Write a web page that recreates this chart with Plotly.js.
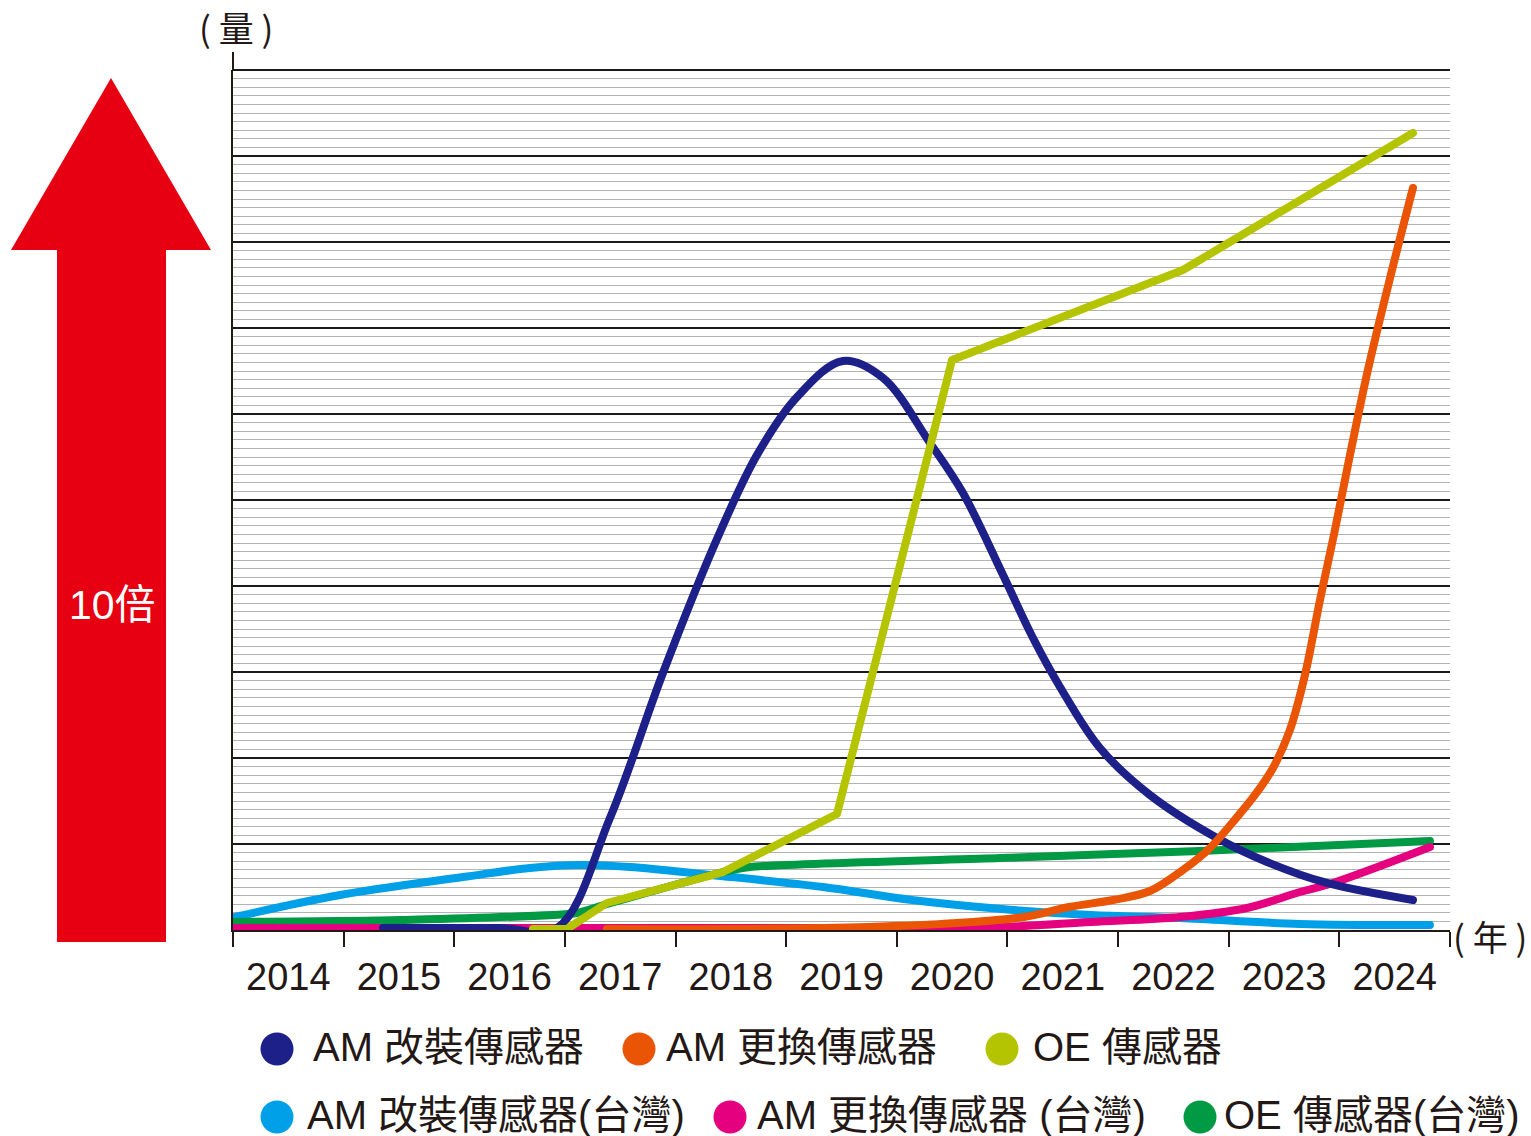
<!DOCTYPE html>
<html><head><meta charset="utf-8">
<script src="https://cdn.plot.ly/plotly-3.0.1.min.js"></script>
<style>
html,body{margin:0;padding:0;background:#fff}
.scatterlayer path.js-line{stroke-linecap:round;stroke-linejoin:round}
</style>
</head><body>
<div id="chart" style="width:1531px;height:1136px"></div>
<script>
// ---- data ----
const years = [2014, 2015, 2016, 2017, 2018, 2019, 2020, 2021, 2022, 2023, 2024];
const yearLabels = ['2014','2015','2016','2017','2018','2019','2020','2021','2022','2023','2024'];
const yearBounds = [2013.5,2014.5,2015.5,2016.5,2017.5,2018.5,2019.5,2020.5,2021.5,2022.5,2023.5,2024.5];

const seriesNames = ['AM 改裝傳感器','AM 更換傳感器','OE 傳感器','AM 改裝傳感器(台灣)','AM 更換傳感器 (台灣)','OE 傳感器(台灣)'];

const amRetroX = [2014.856,2015.900,2016.428,2016.907,2017.386,2017.875,2018.236,2018.598,2019.013,2019.375,2019.800,2020.098,2020.460,2020.731,2020.975,2021.336,2021.788,2022.394,2022.846,2023.388,2024.165];
const amRetroY = [0.023,0.023,0.023,1.302,2.988,4.547,5.523,6.198,6.616,6.419,5.663,5.081,4.128,3.395,2.826,2.116,1.570,1.070,0.791,0.547,0.349];

const amReplX = [2016.880,2018.028,2019.239,2020.044,2020.649,2021.056,2021.454,2021.788,2022.086,2022.330,2022.538,2022.737,2022.900,2023.053,2023.189,2023.325,2023.460,2023.596,2023.758,2023.958,2024.165];
const amReplY = [0.012,0.012,0.035,0.081,0.151,0.267,0.349,0.453,0.698,0.953,1.256,1.570,1.884,2.326,2.965,3.837,4.651,5.523,6.512,7.581,8.628];

const oeX = [2016.211,2016.519,2016.880,2017.929,2018.959,2019.999,2022.086,2024.165];
const oeY = [0.012,0.012,0.314,0.674,1.349,6.628,7.674,9.267];

const amRetroTwX = [2013.518,2014.467,2015.579,2016.184,2016.636,2017.088,2017.820,2018.833,2019.637,2020.451,2021.255,2022.059,2023.144,2024.319];
const amRetroTwY = [0.151,0.407,0.616,0.721,0.756,0.733,0.640,0.500,0.349,0.244,0.174,0.140,0.070,0.058];

const amReplTwX = [2013.518,2016.817,2019.637,2020.451,2021.255,2022.059,2022.665,2023.144,2023.442,2024.319];
const amReplTwY = [0.023,0.023,0.023,0.035,0.093,0.151,0.256,0.442,0.547,0.965];

const oeTwX = [2013.518,2015.009,2016.609,2016.880,2017.929,2018.173,2020.432,2022.240,2024.319];
const oeTwY = [0.093,0.116,0.198,0.302,0.674,0.733,0.837,0.919,1.035];

const colors = ['#1d2088','#e95504','#b5c400','#00a0e9','#e4007f','#009944'];

// ---- layout helpers (pixel -> paper) ----
const L = 233, R = 1450, T = 70, B = 930;
const px = p => (p - L) / (R - L);
const py = p => (B - p) / (B - T);

function tr(x, y, color, shape, smooth) {
  const t = {x: x, y: y, type: 'scatter', mode: 'lines', showlegend: false, hoverinfo: 'skip',
    line: {color: color, width: 8, shape: shape}};
  if (shape === 'spline') t.line.smoothing = smooth;
  return t;
}

// draw order: light blue, green, magenta, navy, orange, yellow-green
const data = [
  tr(amRetroTwX, amRetroTwY, colors[3], 'spline', 1.0),
  tr(oeTwX, oeTwY, colors[5], 'spline', 0.6),
  tr(amReplTwX, amReplTwY, colors[4], 'spline', 1.0),
  tr(amRetroX, amRetroY, colors[0], 'spline', 1.0),
  tr(amReplX, amReplY, colors[1], 'spline', 1.0),
  tr(oeX, oeY, colors[2], 'linear')
];

const txtFont = 'Liberation Sans, Arial, Noto Sans CJK TC, sans-serif';
const ink = '#231815';

const shapes = [
  // y axis extension above the top gridline
  {type: 'line', xref: 'paper', yref: 'paper', x0: 0, x1: 0, y0: 1, y1: py(52), line: {color: ink, width: 2}},
  // top major gridline
  {type: 'line', xref: 'paper', yref: 'paper', x0: 0, x1: 1, y0: 1, y1: 1, line: {color: '#1a1a1a', width: 2}},
  // red arrow
  {type: 'path', xref: 'paper', yref: 'paper',
   path: `M ${px(111)} ${py(78)} L ${px(211)} ${py(250)} L ${px(166)} ${py(250)} L ${px(166)} ${py(942)} L ${px(57)} ${py(942)} L ${px(57)} ${py(250)} L ${px(11)} ${py(250)} Z`,
   fillcolor: '#e60012', line: {width: 0}}
];

// legend (circles + text)
const legendPos = [
  {cx: 277, cy: 1049, tx: 311, ty: 1047},
  {cx: 639, cy: 1049, tx: 664, ty: 1047},
  {cx: 1002, cy: 1049, tx: 1031, ty: 1047},
  {cx: 277, cy: 1117, tx: 305, ty: 1115},
  {cx: 730, cy: 1117, tx: 755, ty: 1115},
  {cx: 1200, cy: 1117, tx: 1222, ty: 1115}
];
const annotations = [
  {xref: 'paper', yref: 'paper', x: px(236), y: py(27), text: '( 量 )', showarrow: false,
   xanchor: 'center', yanchor: 'middle', font: {family: 'Noto Sans CJK TC, sans-serif', size: 35, color: ink}},
  {xref: 'paper', yref: 'paper', x: px(1490), y: py(935), text: '( 年 )', showarrow: false,
   xanchor: 'center', yanchor: 'middle', font: {family: 'Noto Sans CJK TC, sans-serif', size: 35, color: ink}},
  {xref: 'paper', yref: 'paper', x: px(112), y: py(605), text: '10倍', showarrow: false,
   xanchor: 'center', yanchor: 'middle', font: {family: txtFont, size: 41, color: '#ffffff'}}
];
legendPos.forEach((p, i) => {
  shapes.push({type: 'circle', xref: 'paper', yref: 'paper',
    x0: px(p.cx - 16.5), x1: px(p.cx + 16.5), y0: py(p.cy + 16.5), y1: py(p.cy - 16.5),
    fillcolor: colors[i], line: {width: 0}});
  annotations.push({xref: 'paper', yref: 'paper', x: px(p.tx), y: py(p.ty), text: seriesNames[i],
    showarrow: false, xanchor: 'left', yanchor: 'middle',
    font: {family: txtFont, size: 40, color: ink}});
});

const layout = {
  width: 1531, height: 1136,
  margin: {l: L, r: 1531 - R, t: T, b: 1136 - B, pad: 0},
  paper_bgcolor: '#ffffff', plot_bgcolor: '#ffffff',
  showlegend: false,
  xaxis: {
    range: [2013.5, 2024.5], tickmode: 'array', tickvals: years, ticktext: yearLabels,
    ticks: '', showgrid: false, zeroline: false,
    showline: true, linecolor: ink, linewidth: 2,
    tickfont: {family: 'Liberation Sans, Arial, sans-serif', size: 38, color: ink},
    ticklabelstandoff: 12,
    minor: {tickmode: 'array', tickvals: yearBounds, ticks: 'outside', ticklen: 15, tickwidth: 2, tickcolor: ink, showgrid: false}
  },
  yaxis: {
    range: [0, 10], tickmode: 'linear', tick0: 0, dtick: 1,
    showticklabels: false, ticks: '', zeroline: false,
    showgrid: true, gridcolor: '#1a1a1a', gridwidth: 1.8,
    showline: true, linecolor: ink, linewidth: 2,
    minor: {dtick: 0.1, showgrid: true, gridcolor: '#b3b3b3', gridwidth: 1}
  },
  shapes: shapes,
  annotations: annotations
};

Plotly.newPlot('chart', data, layout, {displayModeBar: false, staticPlot: true});
</script>
</body></html>
